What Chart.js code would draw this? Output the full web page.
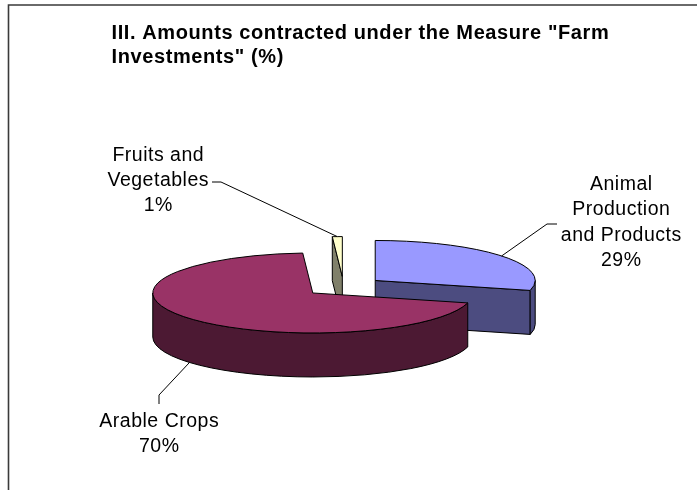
<!DOCTYPE html>
<html><head><meta charset="utf-8">
<script src="https://cdn.jsdelivr.net/npm/chart.js@4"></script>
<style>html,body{margin:0;padding:0;background:#fff}#wrap{width:697px;height:490px;position:relative}</style>
</head><body><div id="wrap"><canvas id="c"></canvas></div>
<script>
// ---- data ----
const titleLines = ['III. Amounts contracted under the Measure "Farm', 'Investments" (%)'];
const categories = ['Animal Production and Products', 'Arable Crops', 'Fruits and Vegetables'];
const values = [29, 70, 1];
const labelLines = [['Animal', 'Production', 'and Products'], ['Arable Crops'], ['Fruits and', 'Vegetables']];
const topColors = ['#9999FF', '#993366', '#FFFFCC'];
const sideColors = ['#4C4C80', '#4C1933', '#80806A'];

// ---- layout ----
const TILT = 0.25, DEPTH = 44, EXPLODE = 0.25, CENTER_Y = 286.6;
const labelLayout = [
  {x: 621, y: 190, elbow: [547, 224], end: [557, 224]},
  {x: 159, y: 427, elbow: [159, 395], end: [159, 404]},
  {x: 158, y: 160.7, elbow: [221, 182], end: [212, 182]}
];
const LINE_H = 25.3;
const FONT_FAMILY = "Arial, 'Liberation Sans', sans-serif";

function geom(el) {
  const R = el.outerRadius;
  const mid = (el.startAngle + el.endAngle) / 2;
  return {R, ry: R * TILT, mid, a: el.startAngle, b: el.endAngle,
    cx: el.x + Math.cos(mid) * EXPLODE * R,
    cy: CENTER_Y + Math.sin(mid) * EXPLODE * R * TILT};
}

const pie3d = {
  id: 'pie3d',
  beforeDatasetsDraw(chart) {
    const ctx = chart.ctx;
    const meta = chart.getDatasetMeta(0);
    const items = meta.data.map((el, i) => ({el, i, g: geom(el)}));
    const order = items.slice().sort((p, q) => Math.sin(p.g.mid) - Math.sin(q.g.mid));
    ctx.save();
    ctx.lineWidth = 1; ctx.strokeStyle = '#000'; ctx.lineJoin = 'round';
    const face = (g, t) => {
      const x = g.cx + g.R * Math.cos(t), y = g.cy + g.ry * Math.sin(t);
      ctx.beginPath();
      ctx.moveTo(g.cx, g.cy); ctx.lineTo(x, y); ctx.lineTo(x, y + DEPTH); ctx.lineTo(g.cx, g.cy + DEPTH);
      ctx.closePath(); ctx.fill(); ctx.stroke();
    };
    for (const it of order) {
      const g = it.g;
      ctx.fillStyle = sideColors[it.i];
      if (Math.cos(g.a) < 0) face(g, g.a);
      if (Math.cos(g.b) > 0) face(g, g.b);
      const t1 = Math.max(g.a, 0), t2 = Math.min(g.b, Math.PI);
      if (t2 > t1) {
        ctx.beginPath();
        ctx.moveTo(g.cx + g.R * Math.cos(t1), g.cy + g.ry * Math.sin(t1));
        ctx.ellipse(g.cx, g.cy, g.R, g.ry, 0, t1, t2, false);
        ctx.lineTo(g.cx + g.R * Math.cos(t2), g.cy + g.ry * Math.sin(t2) + DEPTH);
        ctx.ellipse(g.cx, g.cy + DEPTH, g.R, g.ry, 0, t2, t1, true);
        ctx.closePath(); ctx.fill(); ctx.stroke();
      }
    }
    for (const it of items) {
      const g = it.g, el = it.el;
      ctx.save();
      ctx.translate(g.cx - el.x, g.cy);
      ctx.scale(1, TILT);
      ctx.translate(0, -el.y);
      el.draw(ctx);
      ctx.restore();
      ctx.beginPath();
      ctx.moveTo(g.cx, g.cy);
      ctx.ellipse(g.cx, g.cy, g.R, g.ry, 0, g.a, g.b, false);
      ctx.closePath(); ctx.stroke();
    }
    ctx.restore();
    return false;
  },
  afterDraw(chart) {
    const ctx = chart.ctx;
    const meta = chart.getDatasetMeta(0);
    const total = values.reduce((s, v) => s + v, 0);
    ctx.save();
    // frame
    ctx.strokeStyle = '#3a3a3a'; ctx.lineWidth = 1.6;
    ctx.beginPath(); ctx.moveTo(8.5, 495); ctx.lineTo(8.5, 5); ctx.lineTo(700, 5); ctx.stroke();
    // title
    ctx.fillStyle = '#000';
    ctx.font = "bold 20px " + FONT_FAMILY;
    ctx.letterSpacing = '0.6px';
    ctx.textAlign = 'left'; ctx.textBaseline = 'alphabetic';
    ctx.fillText(titleLines[0], 111.5, 38.5);
    ctx.fillText(titleLines[1], 111.5, 63);
    // labels
    ctx.font = "19.5px " + FONT_FAMILY;
    ctx.letterSpacing = '0.5px';
    ctx.textAlign = 'center';
    meta.data.forEach((el, i) => {
      const g = geom(el);
      const L = labelLayout[i];
      const s = Math.sin(g.mid);
      const ax = g.cx + g.R * Math.cos(g.mid);
      const ay = g.cy + g.ry * s + (s > 0 ? DEPTH : 0);
      ctx.strokeStyle = '#000'; ctx.lineWidth = 1;
      ctx.beginPath(); ctx.moveTo(ax, ay); ctx.lineTo(L.elbow[0], L.elbow[1]); ctx.lineTo(L.end[0], L.end[1]); ctx.stroke();
      const lines = labelLines[i].concat([Math.round(values[i] / total * 100) + '%']);
      lines.forEach((t, k) => ctx.fillText(t, L.x + 0.25, L.y + k * LINE_H));
    });
    ctx.restore();
  }
};

new Chart(document.getElementById('c'), {
  type: 'pie',
  data: {
    labels: categories,
    datasets: [{data: values, backgroundColor: topColors, borderWidth: 0, hoverOffset: 0, offset: 0}]
  },
  options: {
    responsive: true, maintainAspectRatio: false, animation: false, events: [],
    layout: {padding: {left: 183.6, right: 193.4, top: 0, bottom: 0}},
    plugins: {legend: {display: false}, title: {display: false}, tooltip: {enabled: false}}
  },
  plugins: [pie3d]
});
</script></body></html>
